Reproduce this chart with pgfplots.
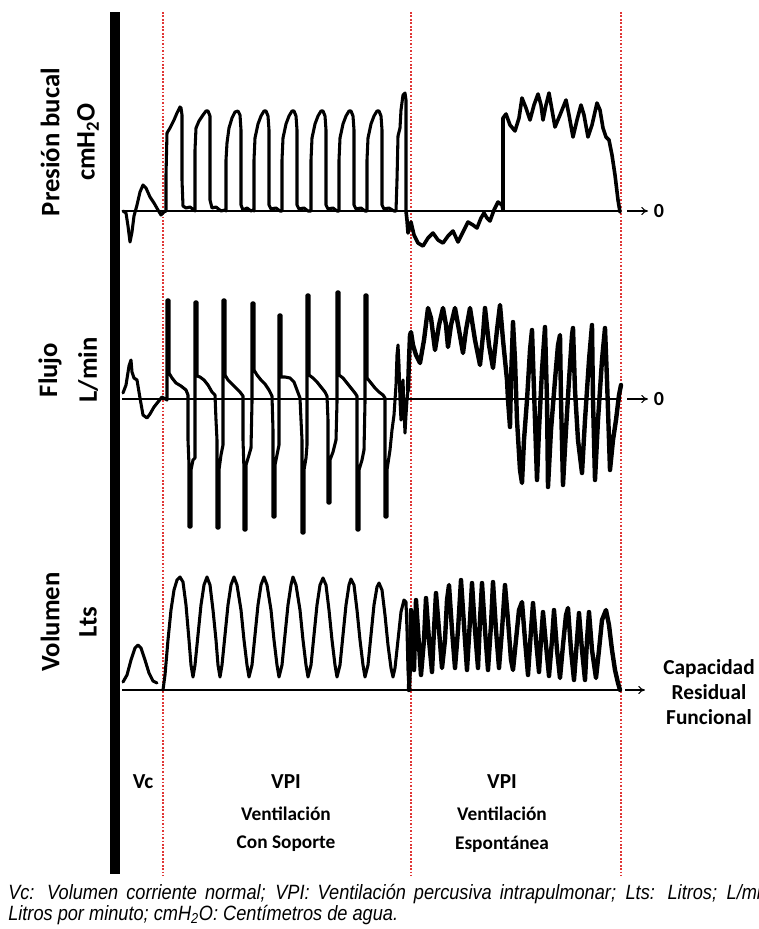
\documentclass[border=0pt]{standalone}
\usepackage{fontspec}
\setmainfont{Carlito}
\newfontfamily\capfont[FakeStretch=0.88]{Liberation Sans}
\usepackage{pgfplots}
\pgfplotsset{compat=1.18}
\usetikzlibrary{arrows.meta}

% colours
\definecolor{guide}{RGB}{225,55,55}

\tikzset{
    trace/.style={black, line width=2.3pt, line join=round, line cap=round},
    dense/.style={black, line width=3.3pt, line join=round, line cap=round},
    base/.style={black, line width=1.1pt},
    lbl/.style={font=\bfseries\fontsize{20}{22}\selectfont, rotate=90},
}

\begin{document}
\begin{tikzpicture}
\useasboundingbox (0,0) rectangle (569.25pt,696.75pt);
\clip (0,0) rectangle (569.25pt,696.75pt);
\begin{axis}[
    at={(0,0)}, anchor=south west,
    width=569.25pt, height=696.75pt,
    scale only axis, hide axis, clip=false,
    xmin=0, xmax=759, ymin=0, ymax=929,
    y dir=reverse,
]

% vertical bar and phase limits
\addplot[black, line width=8.2pt] coordinates {(115,12) (115,874)};
\addplot[guide, line width=1.3pt, dash pattern=on 1.3pt off 1.3pt] coordinates {(163,12) (163,876)};
\addplot[guide, line width=1.3pt, dash pattern=on 1.3pt off 1.3pt] coordinates {(411,12) (411,876)};
\addplot[guide, line width=1.3pt, dash pattern=on 1.3pt off 1.3pt] coordinates {(621,12) (621,876)};

% zero lines
\addplot[base] coordinates {(122,211) (621,211)};
\addplot[black, line width=2pt] coordinates {(540,211) (596,211)};
\addplot[base] coordinates {(122,399) (621,399)};
\addplot[black, line width=1.6pt] coordinates {(122,690) (621,690)};

% Presion bucal: Vc y VPI con soporte
\addplot[trace] coordinates {
(123,211)(126,213)(128,226)(130,242)(132,232)(134,216)(137,205)(140,192)(143,185)(146,188)(150,197)(154,203)(158,210)(161,215)(164,212)
(166,211)(166,175)(167,133)(170,128)(174,120)(177,113)(180,107)(181,108)(182,115)(182,180)(183,206)(186,208)(190,207)(194,210)
(195,211)(195,150)(196,128)(199,121)(203,115)(206,111)(208,111)(210,116)(210,200)(212,208)(216,207)(221,211)(225,210)
(226,211)(226,160)(227,143)(229,128)(232,118)(235,112)(238,111)(240,115)(241,130)(241,205)(243,210)(247,208)(251,211)(253,210)
(254,211)(254,160)(255,138)(258,124)(261,116)(264,111)(266,111)(268,116)(269,130)(269,205)(271,209)(276,208)(280,211)
(282,211)(282,160)(283,138)(286,124)(289,116)(292,111)(294,111)(296,116)(297,130)(297,205)(299,209)(304,208)(308,211)
(311,211)(311,160)(312,138)(315,124)(318,116)(321,111)(323,111)(325,116)(326,130)(326,205)(328,209)(333,208)(337,211)
(339,211)(339,160)(340,138)(343,124)(346,116)(349,111)(351,111)(353,116)(354,130)(354,205)(356,209)(361,208)(365,211)
(367,211)(367,160)(368,138)(371,124)(374,116)(377,111)(379,111)(381,116)(382,130)(382,205)(384,209)(389,208)(394,211)
(396,211)(397,180)(398,136)(400,128)(401,110)(403,95)(405,93)(406,100)(406,211)
};
% Presion bucal: VPI espontanea
\addplot[black, line width=2.7pt, line join=round, line cap=round] coordinates {
(406,211)(407,220)(408,233)(411,222)(414,235)
(418,243)(423,246)(428,238)(433,233)(438,240)(443,243)(448,236)(453,231)(458,242)(463,232)(468,222)(473,225)(477,228)
(481,218)(484,213)(487,218)(490,221)(494,210)(498,202)(502,205)(503,210)(503,118)(506,114)(510,125)(515,131)(519,118)
(522,98)(526,108)(530,120)(534,105)(538,94)(541,105)(543,120)(546,105)(549,93)(552,110)(555,127)(560,115)(566,100)
(569,115)(573,137)(577,120)(581,105)(584,115)(588,137)(592,125)(597,103)(600,110)(603,128)(606,137)(609,140)(612,155)
(615,175)(618,200)(620,212)
};

% Flujo: Vc y VPI con soporte
\addplot[trace] coordinates {
(123,393)(126,385)(129,366)(131,360)(132,372)(134,378)(137,380)(140,398)(143,415)(147,418)(150,414)(154,407)(158,402)(162,397)(167,400)
(167,300)(169,300)(169,373)(172,378)(176,383)(181,386)(186,390)(188,395)(188,440)(189,465)(189,527)(191,527)(191,470)(193,460)(195,458)(195,402)
(195,302)(197,302)(197,376)(200,377)(204,380)(208,385)(212,392)(215,395)(216,420)(217,440)(217,528)(219,528)(219,470)(221,455)(223,445)(223,402)
(223,300)(225,300)(225,375)(228,380)(232,384)(236,388)(240,392)(243,396)(243,440)(244,470)(244,530)(246,530)(246,465)(249,455)(251,448)(252,402)
(252,303)(254,303)(254,370)(257,375)(261,380)(265,384)(269,390)(272,396)(273,430)(273,517)(275,517)(275,465)(277,455)(279,445)(279,402)
(279,315)(281,315)(281,377)(285,377)(290,378)(294,382)(297,390)(300,398)(301,420)(302,440)(302,533)(304,533)(304,470)(306,458)(307,445)(307,402)
(307,295)(309,295)(309,375)(313,378)(317,382)(321,387)(325,392)(327,396)(328,420)(328,503)(330,503)(330,460)(333,452)(336,440)(337,402)
(337,292)(339,292)(339,375)(343,378)(347,383)(351,388)(355,393)(357,396)(357,430)(357,530)(359,530)(359,470)(362,460)(364,450)(365,402)
(365,295)(367,295)(367,378)(371,383)(375,388)(379,392)(383,395)(385,398)(385,440)(385,517)(387,517)(387,470)(390,450)(392,430)(394,415)(395,400)
(396,385)(397,355)(398,345)(399,365)(400,400)(401,420)(402,395)(403,380)(404,410)(405,433)(406,415)(407,400)(408,390)
};
% Flujo: VPI espontanea
\addplot[dense] coordinates {
(408,390)(409,360)(410,335)
(411,332)(413,345)(416,355)(420,363)(424,340)(428,308)(431,318)(435,350)(439,325)(443,308)(446,325)(448,347)(451,325)(455,308)
(459,330)(463,353)(466,330)(470,308)(475,340)(480,365)(483,335)(485,308)(489,345)(493,368)(497,330)(500,305)(503,340)(507,380)
(508,400)(510,427)(511,380)(513,322)(515,360)(517,420)(520,470)(522,483)(524,440)(527,400)(530,350)(532,330)(534,390)(536,450)
(537,480)(539,430)(542,370)(545,327)(547,400)(548,487)(551,430)(555,380)(558,345)(560,335)(561,400)(563,485)(566,430)(569,380)
(572,335)(573,328)(575,390)(578,440)(582,473)(585,420)(589,360)(592,325)(593,400)(595,480)(598,420)(602,360)(605,328)(607,380)
(610,470)(613,440)(616,420)(619,395)(621,385)
};

% Volumen: Vc
\addplot[trace] coordinates {
(123,682)(127,675)(131,660)(135,648)(138,645)(141,648)(145,660)(149,673)(153,681)(157,683)
};
% Volumen: VPI con soporte
\addplot[trace] coordinates {
(163,690)(165,675)(168,640)(171,610)(174,590)(177,580)(180,577)(183,582)(186,605)(189,640)(191,665)(193,677)
(195,665)(198,635)(201,605)(204,585)(207,577)(210,585)(213,610)(216,640)(218,665)(220,677)
(222,665)(225,635)(228,605)(231,585)(234,577)(237,585)(241,610)(244,640)(247,665)(249,677)
(252,665)(255,635)(258,605)(261,585)(264,577)(267,585)(271,610)(274,640)(277,665)(279,677)
(282,665)(285,635)(288,605)(291,585)(293,577)(296,585)(300,610)(303,640)(306,665)(308,677)
(311,665)(314,635)(317,605)(320,585)(323,578)(326,585)(329,610)(332,640)(335,665)(337,677)
(340,665)(343,635)(346,605)(349,585)(351,579)(354,585)(357,610)(360,640)(363,665)(365,677)
(368,665)(371,635)(374,605)(377,587)(379,583)(382,590)(385,615)(388,645)(391,668)(393,677)
(395,668)(398,640)(401,612)(404,600)(406,602)(407,630)(408,670)(409,690)
};
% Volumen: VPI espontanea
\addplot[dense] coordinates {
(409,690)(410,660)(411,610)
(413,640)(414,670)(416,600)(418,630)(421,675)(424,640)(426,598)(429,640)(432,672)(434,630)(436,593)(439,630)
(442,668)(445,640)(447,600)(449,585)(452,630)(455,668)(458,630)(461,580)(464,625)(467,670)(470,620)(472,583)
(475,630)(478,668)(480,620)(482,583)(485,630)(488,670)(491,625)(493,582)(496,630)(499,668)(502,630)(505,585)
(508,620)(511,660)(513,670)(516,640)(519,610)(522,602)(525,640)(528,675)(531,630)(533,603)(536,640)(539,672)
(541,640)(543,612)(546,645)(549,676)(552,640)(554,610)(557,650)(560,678)(563,645)(566,615)(568,608)(571,650)
(574,680)(577,640)(579,613)(582,650)(585,680)(587,640)(589,612)(592,650)(596,678)(599,650)(602,620)(606,610)
(609,625)(612,650)(615,670)(618,683)(620,690)
};

% arrows and right-hand labels
\draw[-{To[length=5pt,width=6pt]}, line width=0.8pt] (axis cs:627,211) -- (axis cs:648,211);
\node[font=\bfseries\fontsize{15}{15}\selectfont] at (axis cs:659,211) {0};
\draw[-{To[length=5pt,width=6pt]}, line width=0.8pt] (axis cs:627,399) -- (axis cs:648,399);
\node[font=\bfseries\fontsize{15}{15}\selectfont] at (axis cs:659,399) {0};
\draw[-{To[length=5pt,width=6pt]}, line width=0.8pt] (axis cs:625,690) -- (axis cs:645,690);
\node[font=\bfseries\fontsize{16}{18.5}\selectfont, align=center] at (axis cs:709,692)
    {Capacidad\\Residual\\Funcional};

% left labels
\node[lbl] at (axis cs:50,142) {Presión bucal};
\node[lbl] at (axis cs:88,142) {cmH\textsubscript{2}O};
\node[lbl] at (axis cs:50,370) {Flujo};
\node[lbl] at (axis cs:88,370) {L/min};
\node[lbl] at (axis cs:50,622) {Volumen};
\node[lbl] at (axis cs:88,622) {Lts};

% phase labels
\node[font=\bfseries\fontsize{16}{18}\selectfont] at (axis cs:143,782) {Vc};
\node[font=\bfseries\fontsize{16}{18}\selectfont] at (axis cs:286,782) {VPI};
\node[font=\bfseries\fontsize{14.5}{16}\selectfont] at (axis cs:286,814) {Ventilación};
\node[font=\bfseries\fontsize{14.5}{16}\selectfont] at (axis cs:286,844) {Con Soporte};
\node[font=\bfseries\fontsize{16}{18}\selectfont] at (axis cs:502,782) {VPI};
\node[font=\bfseries\fontsize{14.5}{16}\selectfont] at (axis cs:502,814) {Ventilación};
\node[font=\bfseries\fontsize{14.5}{16}\selectfont] at (axis cs:502,844) {Espontánea};

% caption
\node[anchor=base west, inner sep=0pt, font=\capfont\itshape\fontsize{15.5}{18}\selectfont] at (axis cs:8,899)
    {\makebox[576pt][s]{Vc: Volumen corriente normal; VPI: Ventilación percusiva intrapulmonar; Lts: Litros; L/min:}};
\node[anchor=base west, inner sep=0pt, font=\capfont\itshape\fontsize{15.5}{18}\selectfont] at (axis cs:8,920)
    {Litros por minuto; cmH\textsubscript{2}O: Centímetros de agua.};

\end{axis}
\end{tikzpicture}
\end{document}
